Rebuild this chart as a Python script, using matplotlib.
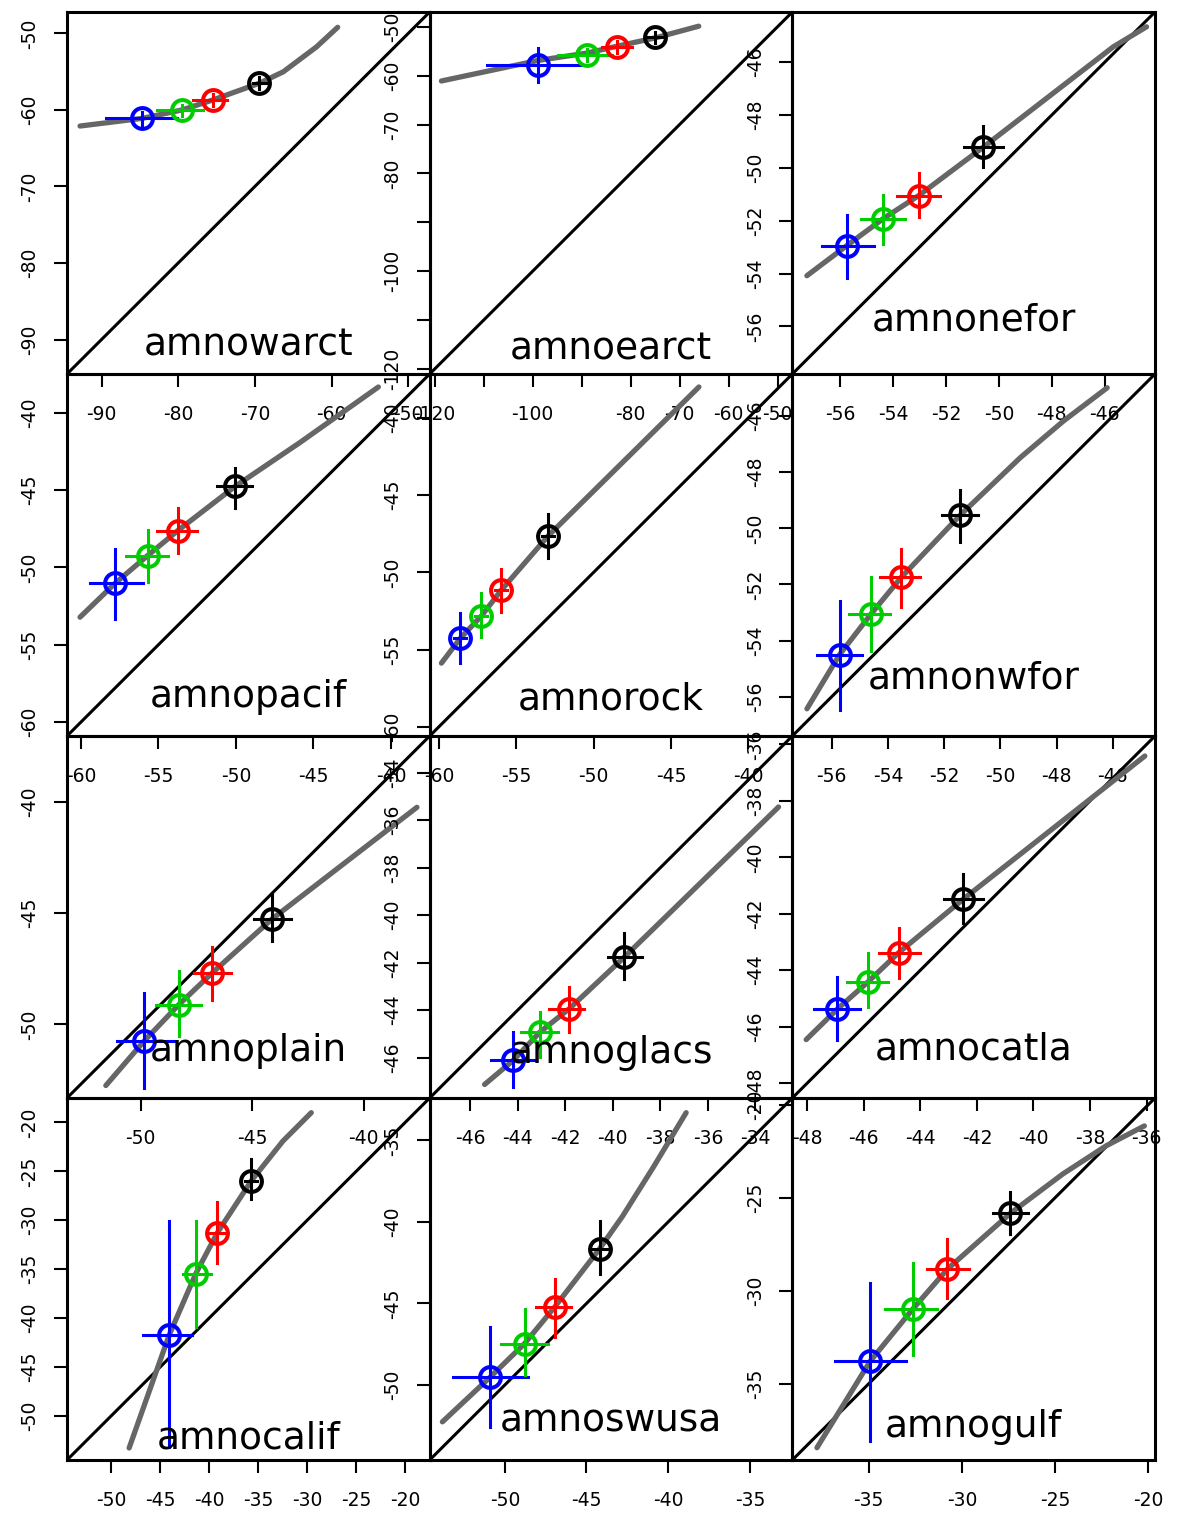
import matplotlib
matplotlib.use("Agg")
import matplotlib.pyplot as plt

plt.rcParams['font.family'] = ['DejaVu Sans']
plt.rcParams['axes.unicode_minus'] = False

# ---- data -------------------------------------------------------------
region_names = ["amnowarct", "amnoearct", "amnonefor",
                "amnopacif", "amnorock", "amnonwfor",
                "amnoplain", "amnoglacs", "amnocatla",
                "amnocalif", "amnoswusa", "amnogulf"]

# shared x/y range of each panel
axis_limits = [(-94.5, -47.2), (-121.0, -47.0), (-57.8, -44.1),
               (-60.9, -37.5), (-60.6, -37.15), (-57.4, -44.5),
               (-53.3, -37.05), (-47.7, -32.45), (-48.53, -35.7),
               (-54.5, -17.5), (-54.6, -32.4), (-39.1, -19.65)]

tick_values = [[-90, -80, -70, -60, -50],
               [-120, -110, -100, -90, -80, -70, -60, -50],
               [-56, -54, -52, -50, -48, -46],
               [-60, -55, -50, -45, -40],
               [-60, -55, -50, -45, -40],
               [-56, -54, -52, -50, -48, -46],
               [-50, -45, -40],
               [-46, -44, -42, -40, -38, -36, -34],
               [-48, -46, -44, -42, -40, -38, -36],
               [-50, -45, -40, -35, -30, -25, -20],
               [-50, -45, -40, -35],
               [-35, -30, -25, -20]]

# tick values left without a label
unlabelled_ticks = [[], [-110, -90], [], [], [], [], [], [], [], [], [], []]

# vertical position (axes fraction) of each region name's baseline
name_baseline = [0.05, 0.039, 0.119, 0.081, 0.072, 0.131,
                 0.102, 0.098, 0.107, 0.032, 0.078, 0.064]

series_colors = ["#0000FF", "#00CD00", "#FF0000", "#000000"]

point_x = [[-84.76, -79.55, -75.4, -69.4],
           [-98.85, -88.95, -82.8, -75.0],
           [-55.74, -54.38, -53.03, -50.58],
           [-57.8, -55.7, -53.76, -50.06],
           [-58.62, -57.26, -55.97, -52.95],
           [-55.72, -54.6, -53.53, -51.42],
           [-49.86, -48.29, -46.8, -44.12],
           [-44.18, -43.06, -41.83, -39.52],
           [-46.95, -45.87, -44.77, -42.48],
           [-44.08, -41.36, -39.19, -35.69],
           [-50.89, -48.79, -46.95, -44.2],
           [-34.93, -32.65, -30.79, -27.4]]

point_y = [[-61.1, -60.04, -58.7, -56.5],
           [-57.9, -55.8, -54.1, -52.2],
           [-52.94, -51.93, -51.05, -49.21],
           [-51.03, -49.24, -47.63, -44.77],
           [-54.27, -52.83, -51.15, -47.65],
           [-54.5, -53.05, -51.75, -49.52],
           [-50.76, -49.11, -47.69, -45.27],
           [-46.11, -44.92, -43.94, -41.77],
           [-45.39, -44.43, -43.38, -41.48],
           [-41.74, -35.45, -31.32, -25.95],
           [-49.51, -47.46, -45.22, -41.65],
           [-33.8, -31.0, -28.85, -25.84]]

x_low = [[-89.4, -82.8, -78.1, -70.3],
         [-109.4, -94.8, -85.9, -76.5],
         [-56.68, -55.21, -53.85, -51.3],
         [-59.42, -57.09, -55.11, -51.2],
         [-59.0, -57.65, -56.35, -53.35],
         [-56.52, -55.4, -54.27, -52.07],
         [-51.05, -49.3, -47.59, -44.91],
         [-45.11, -43.86, -42.67, -40.22],
         [-47.78, -46.6, -45.48, -43.16],
         [-46.73, -42.66, -39.9, -36.3],
         [-53.17, -50.21, -48.07, -44.8],
         [-36.8, -34.13, -31.9, -28.34]]

x_high = [[-80.2, -76.8, -73.6, -68.5],
          [-89.0, -83.8, -79.8, -73.5],
          [-54.73, -53.54, -52.24, -49.85],
          [-56.02, -54.36, -52.53, -48.98],
          [-58.24, -56.87, -55.59, -52.55],
          [-54.92, -53.91, -52.87, -50.81],
          [-48.52, -47.29, -45.95, -43.27],
          [-43.3, -42.32, -41.2, -38.78],
          [-46.15, -45.16, -44.03, -41.79],
          [-41.7, -39.77, -38.5, -35.1],
          [-48.59, -47.36, -45.93, -43.6],
          [-33.0, -31.36, -29.62, -26.46]]

y_low = [[-61.9, -60.8, -59.5, -57.3],
         [-61.3, -57.0, -55.3, -53.4],
         [-54.15, -52.88, -51.87, -49.97],
         [-53.33, -50.96, -49.1, -46.13],
         [-55.88, -54.16, -52.55, -49.1],
         [-56.49, -54.36, -52.82, -50.47],
         [-52.85, -50.53, -48.89, -46.27],
         [-47.23, -45.97, -44.92, -42.68],
         [-46.48, -45.32, -44.29, -42.32],
         [-53.2, -40.89, -34.37, -27.82],
         [-52.56, -49.4, -47.05, -43.18],
         [-38.08, -33.45, -30.42, -26.94]]

y_high = [[-60.3, -59.3, -57.9, -55.7],
          [-54.4, -54.6, -52.9, -51.0],
          [-51.8, -51.04, -50.2, -48.43],
          [-48.81, -47.58, -46.13, -43.55],
          [-52.65, -51.32, -49.75, -46.2],
          [-52.58, -51.75, -50.74, -48.64],
          [-48.59, -47.62, -46.5, -44.1],
          [-44.92, -44.08, -43.03, -40.73],
          [-44.24, -43.38, -42.52, -40.59],
          [-30.03, -30.03, -28.16, -23.74],
          [-46.44, -45.32, -43.49, -39.92],
          [-29.58, -28.54, -27.21, -24.71]]

curve_x = [[-92.8, -84.7, -79.5, -75.5, -69.4, -66.3, -61.95, -59.2],
           [-118.6, -98.85, -88.95, -82.8, -75.0, -66.1],
           [-57.25, -55.74, -54.38, -53.03, -50.58, -45.68, -44.42],
           [-60.06, -57.8, -55.7, -53.76, -50.06, -45.87, -40.81],
           [-59.84, -58.62, -57.26, -55.97, -52.95, -43.19],
           [-56.88, -55.72, -54.6, -53.53, -51.42, -49.29, -47.75, -46.2],
           [-51.56, -49.86, -48.29, -46.8, -44.12, -37.62],
           [-45.39, -44.18, -43.06, -41.83, -39.52, -33.03],
           [-48.04, -46.95, -45.87, -44.77, -42.48, -36.06],
           [-48.16, -44.08, -41.36, -39.19, -35.69, -32.47, -29.58],
           [-53.82, -50.89, -48.79, -46.95, -44.2, -42.8, -40.9, -38.9],
           [-37.78, -34.93, -32.65, -30.79, -27.4, -24.59, -22.27, -20.22]]

curve_y = [[-62.1, -61.1, -60.0, -58.7, -56.5, -55.02, -51.75, -49.2],
           [-61.1, -56.9, -55.4, -54.0, -52.3, -49.9],
           [-54.08, -52.94, -51.93, -51.05, -49.21, -45.42, -44.66],
           [-53.22, -51.03, -49.24, -47.63, -44.77, -41.93, -38.34],
           [-55.88, -54.27, -52.83, -51.15, -47.65, -37.99],
           [-56.43, -54.5, -53.05, -51.75, -49.52, -47.48, -46.17, -44.99],
           [-52.74, -50.76, -49.11, -47.69, -45.27, -40.25],
           [-47.13, -46.11, -44.92, -43.94, -41.77, -35.44],
           [-46.46, -45.39, -44.43, -43.38, -41.48, -36.41],
           [-53.27, -41.74, -35.45, -31.32, -25.95, -21.9, -19.0],
           [-52.26, -49.51, -47.46, -45.22, -41.65, -39.66, -36.63, -33.3],
           [-38.44, -33.8, -31.0, -28.85, -25.84, -23.73, -22.22, -21.15]]

# ---- figure -------------------------------------------------------------
W, H = 1178, 1513
fig = plt.figure(figsize=(W / 100, H / 100), dpi=100)
fig.patch.set_facecolor("white")

left0, top0 = 67, 12
pw, ph = (1155 - 67) / 3, (1460 - 12) / 4

for i, name in enumerate(region_names):
    r, c = divmod(i, 3)
    left = left0 + c * pw
    top = top0 + r * ph
    ax = fig.add_axes([left / W, 1 - (top + ph) / H, pw / W, ph / H])
    ax.set_facecolor("none")
    lo, hi = axis_limits[i]
    ax.set_xlim(lo, hi)
    ax.set_ylim(lo, hi)

    # 1:1 reference line
    ax.axline((lo, lo), (hi, hi), color="black", lw=2.2, zorder=1)
    # fitted curve
    ax.plot(curve_x[i], curve_y[i], color="#666666", lw=3.8,
            solid_capstyle="round", solid_joinstyle="round", zorder=2)
    # points with crosshair error bars
    for k in range(4):
        col = series_colors[k]
        ax.plot([x_low[i][k], x_high[i][k]], [point_y[i][k]] * 2,
                color=col, lw=2.2, zorder=3)
        ax.plot([point_x[i][k]] * 2, [y_low[i][k], y_high[i][k]],
                color=col, lw=2.2, zorder=3)
        ax.plot(point_x[i][k], point_y[i][k], "o", mfc="none", mec=col,
                ms=15, mew=2.9, zorder=4)

    ax.text(0.5, name_baseline[i], name, transform=ax.transAxes,
            ha="center", va="baseline", fontsize=27, color="black",
            zorder=5)

    ticks = tick_values[i]
    labels = ["" if t in unlabelled_ticks[i] else str(t) for t in ticks]
    ax.set_xticks(ticks)
    ax.set_xticklabels(labels)
    ax.set_yticks(ticks)
    ax.set_yticklabels(labels)
    ax.tick_params(direction="out", length=9.4, width=1.5,
                   labelsize=13.5, colors="black")
    ax.tick_params(axis="x", pad=13)
    ax.tick_params(axis="y", pad=10.5, labelrotation=90)
    for lab in ax.get_yticklabels():
        lab.set_va("center")
    for sp in ax.spines.values():
        sp.set_linewidth(2.2)
        sp.set_color("black")

fig.savefig("out.png", dpi=100, facecolor="white")
